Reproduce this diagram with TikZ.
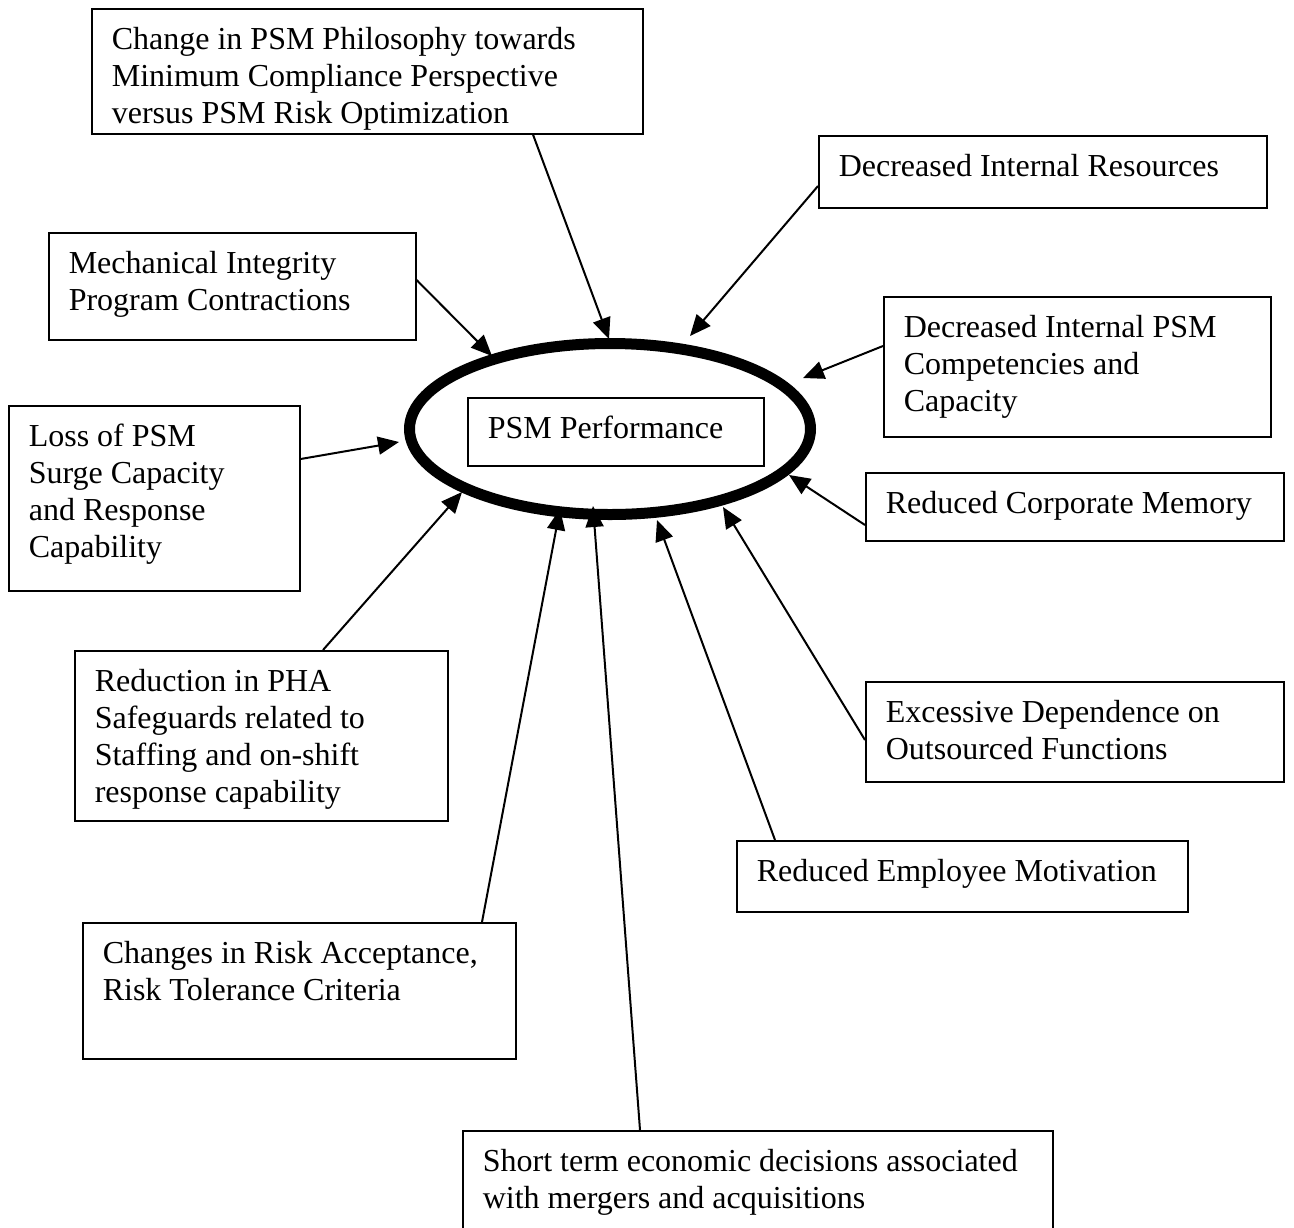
\documentclass[tikz,border=0pt]{standalone}
\usepackage{fontspec}
\setmainfont{Liberation Serif}
\usetikzlibrary{arrows.meta,calc,shapes.geometric}
\newcommand\bxt[3]{\parbox[t][#2][t]{#1}{\begin{tabular}[t]{@{}l@{}}#3\end{tabular}}}
\begin{document}
\begin{tikzpicture}[x=0.5pt,y=-0.5pt,
  box/.style={draw,line width=0.8pt,rectangle,anchor=north west,inner xsep=10pt,inner ysep=7.5pt,
    font=\fontsize{16}{18.5}\selectfont},
  arr/.style={line width=1pt,-{Triangle[length=10.5pt,width=9pt]}},
  ring/.style={draw,ellipse,line width=5.5pt,inner sep=0pt,minimum width=200.5pt,minimum height=85.5pt}]
\clip (0,0) rectangle (1294,1227);
\useasboundingbox (0,0) rectangle (1294,1227);
% central ellipse and box
\node[ring] (E) at (610,429) {};
\node[box] (bP) at (467,397) {\bxt{128pt}{19pt}{PSM Performance}};
% surrounding boxes
\node[box] (b1) at (91,8) {\bxt{255.5pt}{47.5pt}{Change in PSM Philosophy towards\\Minimum Compliance Perspective\\versus PSM Risk Optimization}};
\node[box] (b2) at (818,135) {\bxt{204pt}{21pt}{Decreased Internal Resources}};
\node[box] (b3) at (48,232) {\bxt{163.5pt}{38.5pt}{Mechanical Integrity\\Program Contractions}};
\node[box] (b4) at (883,296) {\bxt{173.5pt}{55pt}{Decreased Internal PSM\\Competencies and\\Capacity}};
\node[box] (b5) at (8,405) {\bxt{125.5pt}{77.5pt}{Loss of PSM\\Surge Capacity\\and Response\\Capability}};
\node[box] (b7) at (865,472) {\bxt{189pt}{19pt}{Reduced Corporate Memory}};
\node[box] (b8) at (74,650) {\bxt{166.5pt}{70pt}{Reduction in PHA\\Safeguards related to\\Staffing and on-shift\\response capability}};
\node[box] (b9) at (865,681) {\bxt{189pt}{35pt}{Excessive Dependence on\\Outsourced Functions}};
\node[box] (b10) at (736,840) {\bxt{205.5pt}{20.5pt}{Reduced Employee Motivation}};
\node[box] (b11) at (82,922) {\bxt{196.5pt}{53pt}{Changes in Risk Acceptance,\\Risk Tolerance Criteria}};
\node[box] (b12) at (462,1130) {\bxt{275pt}{45pt}{Short term economic decisions associated\\with mergers and acquisitions}};
% arrow tips on the ellipse
\coordinate (t1) at (609,339);
\coordinate (t2) at (690,336);
\coordinate (t3) at (492,356);
\coordinate (t4) at (803,378);
\coordinate (t5) at (399,442);
\coordinate (t6) at (789,475);
\coordinate (t7) at (462,492);
\coordinate (t8) at (560,509);
\coordinate (t9) at (593,506);
\coordinate (t10) at (657,520);
\coordinate (t11) at (723,507);
% connectors
\draw[arr] ($(b1.south west)+(442,0)$) -- (t1);
\draw[arr] ($(b2.north west)+(0,51)$) -- (t2);
\draw[arr] ($(b3.north east)+(0,48)$) -- (t3);
\draw[arr] ($(b4.north west)+(0,50)$) -- (t4);
\draw[arr] ($(b5.north east)+(0,54)$) -- (t5);
\draw[arr] ($(b7.north west)+(0,53)$) -- (t6);
\draw[arr] ($(b8.north west)+(249,0)$) -- (t7);
\draw[arr] ($(b11.north west)+(400,0)$) -- (t8);
\draw[arr] ($(b12.north west)+(178,0)$) -- (t9);
\draw[arr] ($(b10.north west)+(39,0)$) -- (t10);
\draw[arr] ($(b9.north west)+(0,59)$) -- (t11);
\end{tikzpicture}
\end{document}
